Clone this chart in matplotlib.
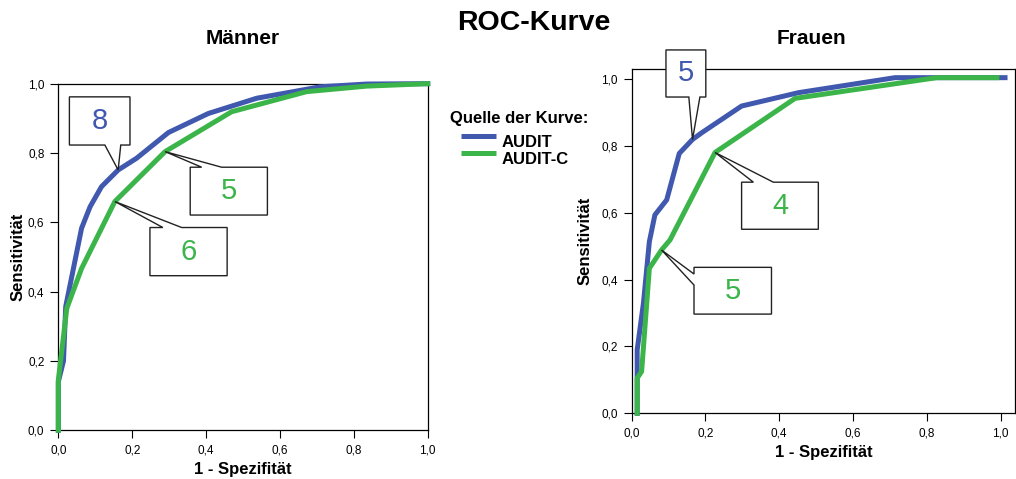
import matplotlib
matplotlib.use('Agg')
import matplotlib.pyplot as plt
from matplotlib.patches import Polygon
from matplotlib.lines import Line2D

plt.rcParams['font.family'] = ['Liberation Sans', 'DejaVu Sans']

BLUE = '#4058ae'
GREEN = '#3bb54a'

# ROC-Daten Männer
m_audit_x = [0, 0, 0.014, 0.02, 0.063, 0.086, 0.117, 0.162, 0.212, 0.298, 0.406, 0.537, 0.709, 0.835, 1.0]
m_audit_y = [0, 0.14, 0.20, 0.357, 0.583, 0.645, 0.703, 0.751, 0.785, 0.859, 0.914, 0.958, 0.991, 0.999, 1.0]
m_auditc_x = [0, 0, 0.023, 0.063, 0.153, 0.289, 0.469, 0.672, 0.835, 1.0]
m_auditc_y = [0, 0.145, 0.352, 0.467, 0.66, 0.804, 0.919, 0.977, 0.993, 1.0]

# ROC-Daten Frauen
f_audit_x = [0.015, 0.015, 0.032, 0.048, 0.063, 0.095, 0.129, 0.165, 0.19, 0.298, 0.452, 0.714, 1.012]
f_audit_y = [0, 0.19, 0.33, 0.514, 0.594, 0.639, 0.778, 0.82, 0.84, 0.92, 0.96, 1.005, 1.005]
f_auditc_x = [0.015, 0.015, 0.027, 0.048, 0.081, 0.104, 0.226, 0.443, 0.827, 0.99]
f_auditc_y = [0, 0.105, 0.125, 0.434, 0.489, 0.519, 0.781, 0.943, 1.005, 1.005]

tick_vals = [0.0, 0.2, 0.4, 0.6, 0.8, 1.0]
tick_labels = ['0,0', '0,2', '0,4', '0,6', '0,8', '1,0']

# Cutoff-Beschriftungen: Text, Farbe, Spitze (Punkt auf der Kurve), Kasten (x0, x1, y0, y1), Seite, Basis
m_callouts = [
    ('8', BLUE, (0.162, 0.751), (0.030, 0.194, 0.823, 0.962), 'bottom', (0.126, 0.169)),
    ('5', GREEN, (0.289, 0.804), (0.357, 0.566, 0.621, 0.759), 'top', (0.388, 0.442)),
    ('6', GREEN, (0.153, 0.66), (0.248, 0.457, 0.446, 0.585), 'top', (0.283, 0.334)),
]
f_callouts = [
    ('5', BLUE, (0.165, 0.82), (0.093, 0.201, 0.947, 1.088), 'bottom', (0.155, 0.185)),
    ('4', GREEN, (0.226, 0.781), (0.298, 0.506, 0.551, 0.692), 'top', (0.330, 0.384)),
    ('5', GREEN, (0.081, 0.489), (0.169, 0.379, 0.297, 0.437), 'left', (0.417, 0.384)),
]


def callout(ax, text, color, tip, box, side, base):
    x0, x1, y0, y1 = box
    b1, b2 = base
    if side == 'bottom':
        pts = [(x0, y0), (b1, y0), tip, (b2, y0), (x1, y0), (x1, y1), (x0, y1)]
    elif side == 'top':
        pts = [(x0, y0), (x1, y0), (x1, y1), (b2, y1), tip, (b1, y1), (x0, y1)]
    else:
        pts = [(x0, y0), (x1, y0), (x1, y1), (x0, y1), (x0, b1), tip, (x0, b2)]
    ax.add_patch(Polygon(pts, closed=True, facecolor='white', edgecolor='#222222',
                         lw=1.0, zorder=5, clip_on=False))
    ax.text((x0 + x1) / 2, (y0 + y1) / 2, text, color=color, fontsize=21,
            ha='center', va='center', zorder=6)


def style(ax, xmax, ymax, ypad):
    ax.set_xlim(0, xmax)
    ax.set_ylim(0, ymax)
    ax.set_xticks(tick_vals)
    ax.set_xticklabels(tick_labels)
    ax.set_yticks(tick_vals)
    ax.set_yticklabels(tick_labels)
    ax.tick_params(direction='out', length=6, width=0.8, labelsize=8.5, pad=4)
    for s in ax.spines.values():
        s.set_linewidth(0.9)
    ax.set_xlabel('1 - Spezifität', fontsize=12, fontweight='bold', labelpad=4.5)
    ax.set_ylabel('Sensitivität', fontsize=12, fontweight='bold', labelpad=ypad)


fig = plt.figure(figsize=(10.16, 4.79), dpi=100)
ax1 = fig.add_axes([0.0574, 0.1017, 0.3636, 0.7236])
ax2 = fig.add_axes([0.6217, 0.1372, 0.3773, 0.7188])

ax1.plot(m_audit_x, m_audit_y, color=BLUE, lw=3.6, clip_on=False, zorder=3)
ax1.plot(m_auditc_x, m_auditc_y, color=GREEN, lw=3.6, clip_on=False, zorder=3)
ax2.plot(f_audit_x, f_audit_y, color=BLUE, lw=3.6, clip_on=False, zorder=3)
ax2.plot(f_auditc_x, f_auditc_y, color=GREEN, lw=3.6, clip_on=False, zorder=3)

style(ax1, 1.0, 1.0, 1.5)
style(ax2, 1.039, 1.031, 6)

for c in m_callouts:
    callout(ax1, *c)
for c in f_callouts:
    callout(ax2, *c)

fig.text(0.2387, 1 - 38 / 479, 'Männer', fontsize=15, fontweight='bold', ha='center', va='center')
fig.text(0.799, 1 - 38 / 479, 'Frauen', fontsize=15, fontweight='bold', ha='center', va='center')
fig.text(0.5256, 1 - 23 / 479, 'ROC-Kurve', fontsize=20.5, fontweight='bold', ha='center', va='center')

# Legende
fig.text(450 / 1016, 1 - 122.7 / 479, 'Quelle der Kurve:', fontsize=12, fontweight='bold', va='baseline')
for name, color, ly, ty in [('AUDIT', BLUE, 136, 146.7), ('AUDIT-C', GREEN, 153.3, 164)]:
    fig.add_artist(Line2D([461 / 1016, 496 / 1016], [1 - ly / 479, 1 - ly / 479],
                          color=color, lw=3.6, solid_capstyle='butt', transform=fig.transFigure))
    fig.text(502 / 1016, 1 - ty / 479, name, fontsize=12, fontweight='bold', va='baseline')

fig.savefig('out.png', dpi=100)
